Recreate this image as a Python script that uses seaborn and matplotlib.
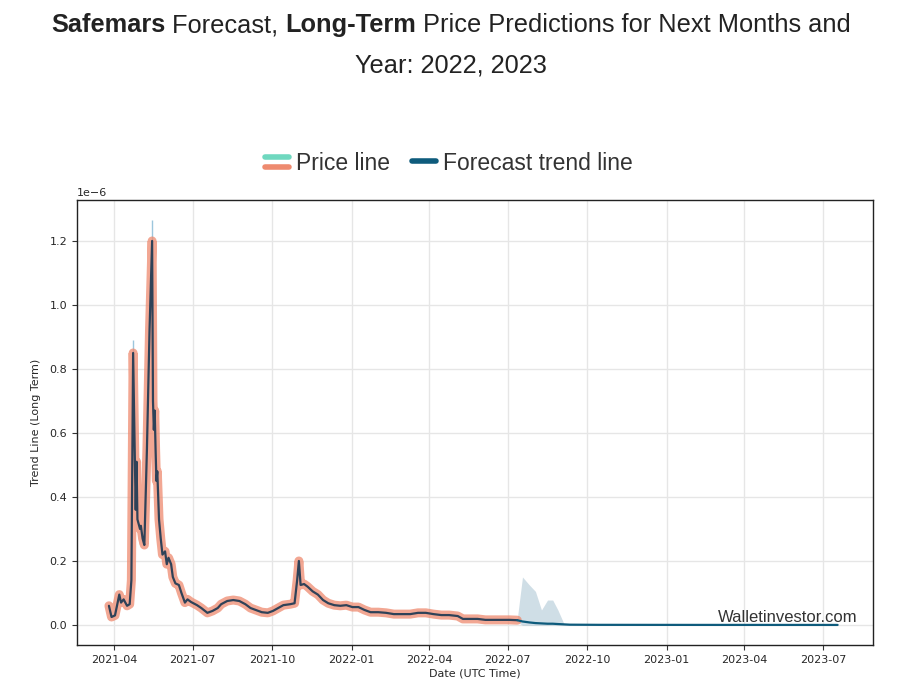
import pandas as pd
import numpy as np
import matplotlib
matplotlib.use("Agg")
import matplotlib.pyplot as plt
import matplotlib.dates as mdates
from matplotlib.lines import Line2D
from matplotlib.legend_handler import HandlerBase
import seaborn as sns

# precio historico (x 1e-6)
price_dates = [
    '2021-03-26', '2021-03-29', '2021-04-02', '2021-04-07', '2021-04-09', '2021-04-12',
    '2021-04-16', '2021-04-19', '2021-04-21', '2021-04-23', '2021-04-25', '2021-04-26',
    '2021-04-27', '2021-04-28', '2021-05-01', '2021-05-02', '2021-05-04', '2021-05-06',
    '2021-05-09', '2021-05-12', '2021-05-15', '2021-05-16', '2021-05-17', '2021-05-18',
    '2021-05-19', '2021-05-20', '2021-05-21', '2021-05-23', '2021-05-25', '2021-05-27',
    '2021-05-30', '2021-06-01', '2021-06-03', '2021-06-06', '2021-06-08', '2021-06-11',
    '2021-06-15', '2021-06-18', '2021-06-22', '2021-06-25', '2021-06-29', '2021-07-06',
    '2021-07-11', '2021-07-18', '2021-07-24', '2021-07-30', '2021-08-03', '2021-08-10',
    '2021-08-17', '2021-08-24', '2021-08-31', '2021-09-06', '2021-09-12', '2021-09-19',
    '2021-09-26', '2021-10-02', '2021-10-08', '2021-10-14', '2021-10-22', '2021-10-27',
    '2021-10-30', '2021-11-01', '2021-11-03', '2021-11-07', '2021-11-11', '2021-11-17',
    '2021-11-23', '2021-11-29', '2021-12-05', '2021-12-12', '2021-12-19', '2021-12-26',
    '2022-01-02', '2022-01-09', '2022-01-16', '2022-01-23', '2022-02-01', '2022-02-10',
    '2022-02-19', '2022-02-28', '2022-03-10', '2022-03-19', '2022-03-28', '2022-04-06',
    '2022-04-15', '2022-04-24', '2022-05-04', '2022-05-10', '2022-05-18', '2022-05-27',
    '2022-06-05', '2022-06-14', '2022-06-24', '2022-07-03', '2022-07-12',
]
price_values = [
    0.060, 0.025, 0.030, 0.095, 0.070, 0.080,
    0.060, 0.065, 0.140, 0.850, 0.520, 0.360,
    0.510, 0.330, 0.300, 0.310, 0.270, 0.250,
    0.550, 0.920, 1.200, 0.700, 0.610, 0.670,
    0.550, 0.450, 0.480, 0.330, 0.270, 0.220,
    0.230, 0.190, 0.210, 0.190, 0.150, 0.130,
    0.125, 0.100, 0.070, 0.080, 0.072, 0.062,
    0.053, 0.038, 0.044, 0.053, 0.065, 0.075,
    0.078, 0.075, 0.065, 0.053, 0.047, 0.040,
    0.038, 0.044, 0.053, 0.062, 0.065, 0.068,
    0.140, 0.200, 0.125, 0.128, 0.120, 0.105,
    0.095, 0.078, 0.068, 0.062, 0.060, 0.062,
    0.056, 0.056, 0.047, 0.040, 0.040, 0.038,
    0.034, 0.034, 0.034, 0.038, 0.038, 0.034,
    0.031, 0.031, 0.028, 0.019, 0.019, 0.019,
    0.016, 0.016, 0.016, 0.016, 0.015,
]

# picos maximos (mechas finas)
wick_dates = ['2021-04-23', '2021-05-15']
wick_low = [0.850, 1.200]
wick_high = [0.890, 1.265]

# prevision
fc_dates = [
    '2022-07-12', '2022-07-18', '2022-07-26', '2022-08-02', '2022-08-09', '2022-08-16',
    '2022-08-22', '2022-08-28', '2022-09-04', '2022-09-11', '2022-10-15', '2023-02-07',
    '2023-07-18',
]
fc_values = [0.015, 0.011, 0.008, 0.006, 0.005, 0.004, 0.004, 0.003, 0.002, 0.001, 0.0005, 0.0003, 0.0002]
fc_upper = [0.020, 0.150, 0.125, 0.105, 0.047, 0.078, 0.078, 0.047, 0.004, 0.001, 0.0005, 0.0003, 0.0002]
fc_lower = [0.010, -0.001, -0.001, -0.001, -0.001, -0.001, -0.001, -0.001, -0.001, -0.001, -0.001, -0.001, -0.001]

df_price = pd.DataFrame({'fecha': pd.to_datetime(price_dates), 'valor': np.array(price_values) * 1e-6})
df_fc = pd.DataFrame({'fecha': pd.to_datetime(fc_dates), 'valor': np.array(fc_values) * 1e-6,
                      'sup': np.array(fc_upper) * 1e-6, 'inf': np.array(fc_lower) * 1e-6})

SALMON = '#ee8a6f'
OSCURO = '#2f4258'
AZUL = '#0e5b7c'
TEAL = '#6fd8bf'

sns.set_style('white')
plt.rcParams['font.family'] = ['DejaVu Sans']

fig = plt.figure(figsize=(8.98, 6.93), dpi=100)
ax = fig.add_axes([77 / 898, 1 - 645 / 693, (873 - 77) / 898, (645 - 200) / 693])

ax.grid(True, color='#e6e6e6', linewidth=1)
ax.set_axisbelow(True)

# banda de prevision
ax.fill_between(df_fc['fecha'], df_fc['inf'], df_fc['sup'], color='#a9c3d2', alpha=0.55, linewidth=0)

# mechas
ax.vlines(pd.to_datetime(wick_dates), np.array(wick_low) * 1e-6, np.array(wick_high) * 1e-6,
          color='#9cc6dc', linewidth=1)

# linea de precio: contorno salmon + linea oscura
sns.lineplot(data=df_price, x='fecha', y='valor', ax=ax, color=SALMON, linewidth=6.5,
             alpha=0.75, estimator=None, solid_capstyle='round', solid_joinstyle='round')
sns.lineplot(data=df_price, x='fecha', y='valor', ax=ax, color=OSCURO, linewidth=1.6,
             estimator=None)
sns.lineplot(data=df_fc, x='fecha', y='valor', ax=ax, color=AZUL, linewidth=1.6, estimator=None)

ax.set_xlim(pd.Timestamp('2021-02-17'), pd.Timestamp('2023-08-28'))
ax.set_ylim(-0.0625e-6, 1.328e-6)
ax.set_yticks(np.arange(0, 1.21e-6, 0.2e-6))
ax.xaxis.set_major_locator(mdates.MonthLocator(bymonth=[1, 4, 7, 10]))
ax.xaxis.set_major_formatter(mdates.DateFormatter('%Y-%m'))
ax.tick_params(axis='both', labelsize=8, length=3.5, width=0.8, direction='out',
               bottom=True, left=True, color='#333333')
ax.yaxis.get_offset_text().set_fontsize(8)
ax.set_xlabel('Date (UTC Time)', fontsize=8, labelpad=3)
ax.set_ylabel('Trend Line (Long Term)', fontsize=8, labelpad=6)
for s in ax.spines.values():
    s.set_color('#222222')
    s.set_linewidth(1)

ax.text(0.981, 0.062, 'Walletinvestor.com', transform=ax.transAxes, ha='right', va='center',
        fontsize=12, color='#333333', family='Liberation Sans')


# leyenda con icono de dos lineas
class DobleLinea(HandlerBase):
    def create_artists(self, legend, orig_handle, xdescent, ydescent, width, height, fontsize, trans):
        l1 = Line2D([0, width], [0.78 * height, 0.78 * height], color=TEAL, lw=4, transform=trans)
        l2 = Line2D([0, width], [0.18 * height, 0.18 * height], color=SALMON, lw=4, transform=trans)
        return [l1, l2]


h_precio = Line2D([], [], color=SALMON)
h_fc = Line2D([], [], color=AZUL, lw=4)
fig.legend([h_precio, h_fc], ['Price line', 'Forecast trend line'],
           handler_map={h_precio: DobleLinea()}, loc='center', bbox_to_anchor=(0.5, 1 - 163 / 693),
           ncol=2, frameon=False, prop={'family': 'Liberation Sans', 'size': 16.5},
           handlelength=1.05, handletextpad=0.3, columnspacing=0.95, labelcolor='#333333')

# titulo con partes en negrita
fig.canvas.draw()
renderer = fig.canvas.get_renderer()
partes1 = [('Safemars', 'bold'), (' Forecast, ', 'normal'), ('Long-Term', 'bold'),
           (' Price Predictions for Next Months and', 'normal')]
linea2 = 'Year: 2022, 2023'

def dibujar_linea(partes, y, size):
    objs = [fig.text(0, y, t, fontsize=size, fontweight=w, family='Liberation Sans',
                     color='#222222', va='center', ha='left') for t, w in partes]
    anchos = [o.get_window_extent(renderer).width for o in objs]
    total = sum(anchos)
    x0 = (898 - total) / 2 + 2
    for o, a in zip(objs, anchos):
        o.set_x(x0 / 898)
        x0 += a
    return total, objs

size = 17
total, objs = dibujar_linea(partes1, 1 - 25 / 693, size)
for o in objs:
    o.remove()
size = size * 800 / total
dibujar_linea(partes1, 1 - 25 / 693, size)
dibujar_linea([(linea2, 'normal')], 1 - 66 / 693, size)

fig.savefig('out.png', dpi=100, facecolor='white')
